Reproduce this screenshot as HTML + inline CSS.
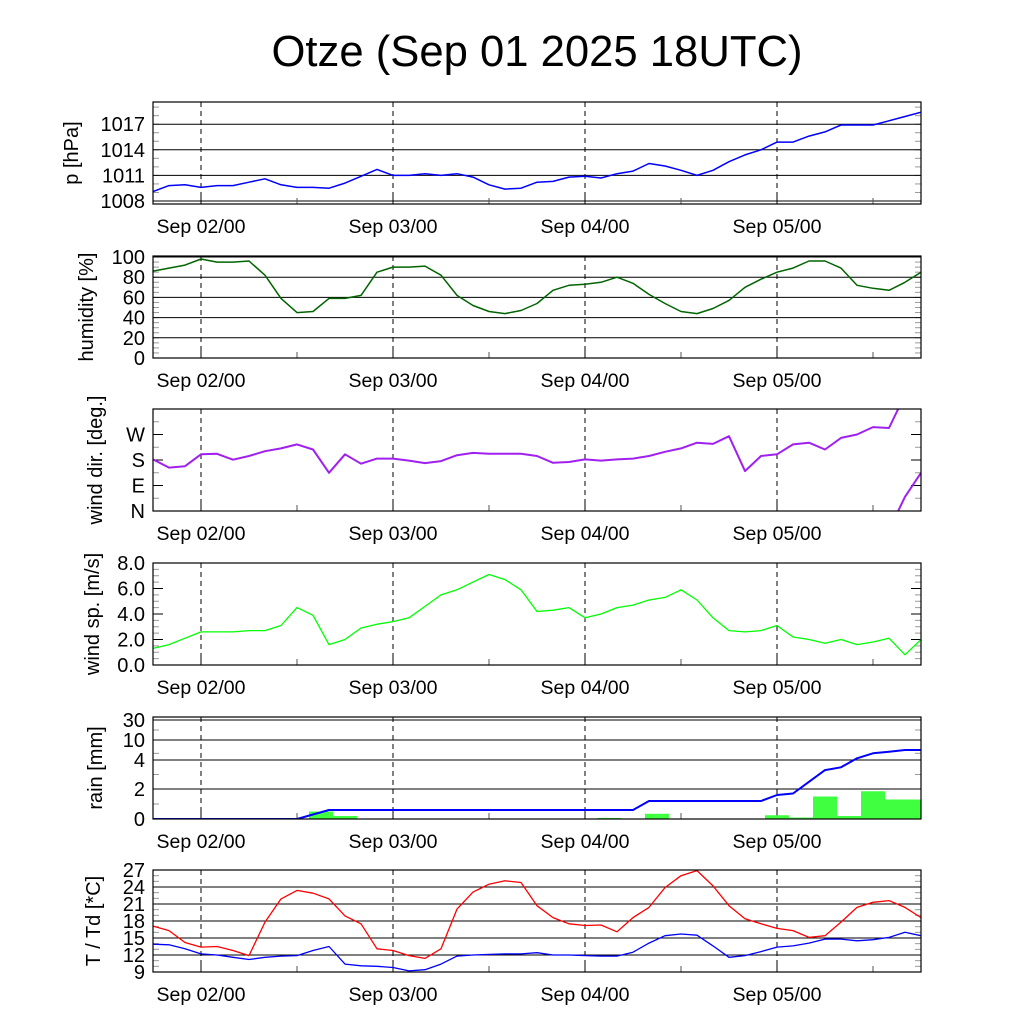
<!DOCTYPE html>
<html><head><meta charset="utf-8"><style>
html,body{margin:0;padding:0;background:#fff;}
svg{display:block;font-family:"Liberation Sans",sans-serif;}
</style></head><body>
<svg id="chart" width="1024" height="1024" viewBox="0 0 1024 1024" xmlns="http://www.w3.org/2000/svg">
<text x="537" y="66" font-size="44" text-anchor="middle" textLength="531" lengthAdjust="spacingAndGlyphs">Otze (Sep 01 2025 18UTC)</text>
<g id="plots"></g>
</svg>
<script>
// hours since Sep 01 18UTC, every 2h
const hours = [0,2,4,6,8,10,12,14,16,18,20,22,24,26,28,30,32,34,36,38,40,42,44,46,48,50,52,54,56,58,60,62,64,66,68,70,72,74,76,78,80,82,84,86,88,90,92,94,96];
const dayLabels = ["Sep 02/00","Sep 03/00","Sep 04/00","Sep 05/00"];
const dayHours = [6,30,54,78];
const pressure = [1009.1,1009.8,1009.9,1009.6,1009.8,1009.8,1010.2,1010.6,1009.9,1009.6,1009.6,1009.5,1010.1,1010.9,1011.7,1011.0,1011.0,1011.2,1011.0,1011.2,1010.8,1009.9,1009.4,1009.5,1010.2,1010.3,1010.8,1010.9,1010.7,1011.2,1011.5,1012.4,1012.1,1011.6,1011.0,1011.6,1012.6,1013.4,1014.0,1014.9,1014.9,1015.6,1016.1,1016.9,1016.9,1016.9,1017.4,1017.9,1018.4];
const humidity = [86,89,92,98,95,95,96,82,59,45,46,59,59,62,85,90,90,91,82,62,52,46,44,47,54,67,72,73,75,80,74,63,54,46,44,49,57,70,78,85,89,96,96,89,72,69,67,75,85];
const windDir = [182,153,158,200,202,181,194,211,221,235,217,135,200,167,185,185,178,169,176,197,205,202,202,202,194,170,173,182,178,182,185,194,209,221,241,237,264,141,194,200,235,241,217,258,270,296,293,410,495];
const windSpeed = [1.3,1.6,2.1,2.6,2.6,2.6,2.7,2.7,3.1,4.5,3.9,1.6,2.0,2.9,3.2,3.4,3.7,4.6,5.5,5.9,6.5,7.1,6.7,5.9,4.2,4.3,4.5,3.7,4.0,4.5,4.7,5.1,5.3,5.9,5.1,3.7,2.7,2.6,2.7,3.1,2.2,2.0,1.7,2.0,1.6,1.8,2.1,0.8,2.0];
const rainCum = [0,0,0,0,0,0,0,0,0,0,0.3,0.6,0.6,0.6,0.6,0.6,0.6,0.6,0.6,0.6,0.6,0.6,0.6,0.6,0.6,0.6,0.6,0.6,0.6,0.6,0.6,1.2,1.2,1.2,1.2,1.2,1.2,1.2,1.2,1.6,1.7,2.5,3.3,3.5,4.5,6.0,6.5,7.0,7.0];
const rainBarHours = [21,24,57,63,78,81,84,87,90,93,96];
const rainBarValues = [0.5,0.2,0.07,0.35,0.25,0.1,1.5,0.2,1.85,1.3,1.3];
const temp = [17.1,16.3,14.2,13.4,13.5,12.8,11.9,17.8,21.9,23.4,22.9,21.9,18.9,17.5,13.1,12.8,11.9,11.4,13.1,20.1,23.1,24.5,25.1,24.8,20.7,18.6,17.5,17.2,17.3,16.1,18.6,20.4,23.9,26.0,26.9,24.2,20.7,18.4,17.5,16.7,16.3,15.1,15.4,17.8,20.4,21.3,21.6,20.4,18.6];
const dewpoint = [13.9,13.8,13.1,12.2,12.0,11.6,11.2,11.6,11.8,11.9,12.8,13.5,10.4,10.1,10.0,9.8,9.2,9.4,10.4,11.8,12.0,12.1,12.2,12.2,12.4,12.0,12.0,11.9,11.8,11.8,12.5,14.1,15.4,15.7,15.5,13.6,11.6,11.9,12.6,13.4,13.6,14.1,14.8,14.8,14.5,14.7,15.1,16.0,15.4];
const pTicks = [1008,1011,1014,1017];
const hTicks = [0,20,40,60,80,100];
const dirTicks = [0,90,180,270];
const dirLabels = ["N","E","S","W"];
const wsTicks = [0,2,4,6,8];
const rainTicks = [0,2,4,10,30];
const tTicks = [9,12,15,18,21,24,27];

const NS="http://www.w3.org/2000/svg";
const root=document.getElementById('plots');
const L=153,R=921,H=102;
const X=h=>L+(h/96)*(R-L);
function el(tag,attrs,parent){const e=document.createElementNS(NS,tag);for(const k in attrs)e.setAttribute(k,attrs[k]);(parent||root).appendChild(e);return e;}
function lin(d0,d1,top){return v=>top+H-(v-d0)/(d1-d0)*H;}
function rainY(top){const vs=[0,2,4,10,30,32],ps=[0,30,59,79,99,102];return v=>{for(let i=0;i<vs.length-1;i++){if(v<=vs[i+1]){return top+H-(ps[i]+(v-vs[i])/(vs[i+1]-vs[i])*(ps[i+1]-ps[i]));}}return top;};}

function panel(o){
  const g=el('g',{});
  
  
  const top=o.top,Y=o.Y;
  o.minor.forEach(v=>{const y=Y(v);el('line',{x1:L,x2:L+6,y1:y,y2:y,stroke:'#999','stroke-width':1},g);el('line',{x1:R-6,x2:R,y1:y,y2:y,stroke:'#999','stroke-width':1},g);});
  o.ticks.forEach((v,i)=>{const y=Y(v);
    if(o.grid){const gl=el('line',{x1:L,x2:R,y1:y,y2:y,stroke:'#000','stroke-width':1},g);}
    else{el('line',{x1:L,x2:L+10,y1:y,y2:y,stroke:'#000'},g);el('line',{x1:R-10,x2:R,y1:y,y2:y,stroke:'#000'},g);}
    const t=el('text',{x:L-8,y:y+7,'font-size':20,'text-anchor':'end'},g);t.textContent=o.labels?o.labels[i]:v;
    
    
  });
  dayHours.forEach((dh,i)=>{const x=X(dh);
    const dl=el('line',{x1:x,x2:x,y1:top,y2:top+H,stroke:'#000','stroke-dasharray':'5,4'},g);
    
    
    el('line',{x1:x,x2:x,y1:top+H-10,y2:top+H,stroke:'#000'},g);
    const t=el('text',{x:x,y:top+H+29,'font-size':19.5,'text-anchor':'middle'},g);t.textContent=dayLabels[i];
    
    
  });
  [18,42,66,90].forEach(h=>el('line',{x1:X(h),x2:X(h),y1:top+H-6,y2:top+H,stroke:'#555'},g));
  const cid='clip-'+o.name;
  const cp=el('clipPath',{id:cid},g);el('rect',{x:L,y:top,width:R-L,height:H},cp);
  const dg=el('g',{'clip-path':'url(#'+cid+')'},g);
  o.draw(dg,Y);
  const b=el('rect',{x:L,y:top,width:R-L,height:H,fill:'none',stroke:'#000','stroke-width':1.2},g);
  
  
  const at=el('text',{x:0,y:0,'font-size':20,'text-anchor':'middle',transform:'translate('+(o.tx||82)+','+(top+H/2)+') rotate(-90)'},g);
  at.textContent=o.title;
  
  
}
function line(g,vals,Y,color,name,w){
  const p=hours.map((h,i)=>X(h).toFixed(1)+','+Y(vals[i]).toFixed(1)).join(' ');
  const pl=el('polyline',{points:p,fill:'none',stroke:color,'stroke-width':w||1.4,'stroke-linejoin':'round'},g);
  
  
  return pl;
}
function range(a,b,s){const r=[];for(let v=a;v<=b+1e-9;v+=s)r.push(v);return r;}

const tops=[102,256,409,563,717,870];
panel({name:'pressure',top:tops[0],Y:lin(1007.65,1019.6,tops[0]),ticks:pTicks,grid:true,minor:range(1008,1019,1),title:'p [hPa]',tx:78,
  draw:(g,Y)=>line(g,pressure,Y,'#0000ff','pressure-line',1.5)});
panel({name:'humidity',top:tops[1],Y:lin(0,101,tops[1]),ticks:hTicks,grid:true,minor:range(0,100,5),title:'humidity [%]',tx:93,
  draw:(g,Y)=>line(g,humidity,Y,'#006400','humidity-line',1.5)});
panel({name:'wind-direction',top:tops[2],Y:lin(0,360,tops[2]),ticks:dirTicks,labels:dirLabels,grid:false,minor:range(0,360,45),title:'wind dir. [deg.]',tx:102,
  draw:(g,Y)=>{line(g,windDir,Y,'#a020f0','wind-direction-line',2);const Y2=v=>Y(v-360);line(g,windDir,Y2,'#a020f0','wind-direction-line-wrapped',2);}});
panel({name:'wind-speed',top:tops[3],Y:lin(0,8,tops[3]),ticks:wsTicks,labels:['0.0','2.0','4.0','6.0','8.0'],grid:false,minor:range(0,8,0.5),title:'wind sp. [m/s]',tx:99,
  draw:(g,Y)=>line(g,windSpeed,Y,'#00ff00','wind-speed-line',1.3)});
panel({name:'rain',top:tops[4],Y:rainY(tops[4]),ticks:rainTicks,grid:true,minor:[1,3,6,20],title:'rain [mm]',tx:102,
  draw:(g,Y)=>{rainBarHours.forEach((h,i)=>{const y=Y(rainBarValues[i]);const r=el('rect',{x:X(h-1.5),y:y,width:X(3)-X(0),height:Y(0)-y,fill:'#40ff40'},g);
      
      });
    line(g,rainCum,Y,'#0000ff','cumulative-rain-line',2);}});
panel({name:'temperature',top:tops[5],Y:lin(9,27,tops[5]),ticks:tTicks,grid:true,minor:range(9,27,1),title:'T / Td [*C]',tx:100,
  draw:(g,Y)=>{line(g,temp,Y,'#ff0000','temperature-line',1.3);line(g,dewpoint,Y,'#0000ff','dewpoint-line',1.3);}});
</script>
</body></html>
